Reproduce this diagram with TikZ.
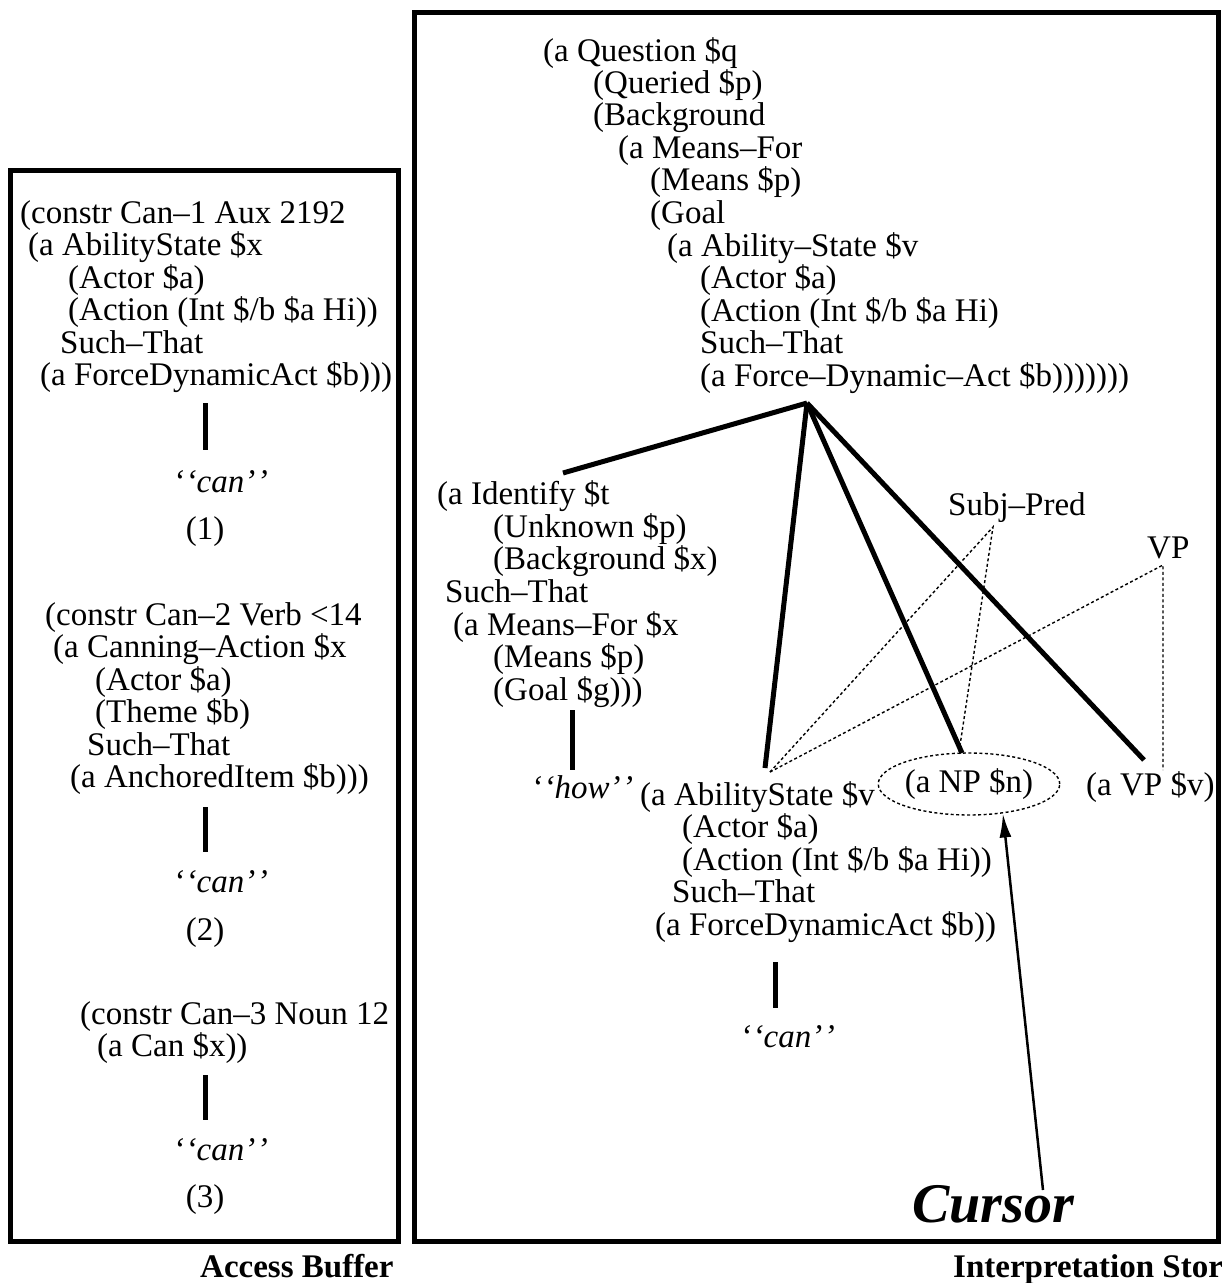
\documentclass[tikz,border=0pt]{standalone}
\usepackage{fontspec}
\setmainfont{Liberation Serif}
\usetikzlibrary{shapes.geometric,arrows.meta}
\newcommand\TxtLine[4]{\node[txt] (#1) at (#2,#3) {#4};}
\newcommand\QQ[1]{\textquoteleft\kern1.5pt\textquoteleft #1\textquoteright\kern1.5pt\textquoteright}
\begin{document}
\begin{tikzpicture}[x=1pt,y=-1pt,
  txt/.style={anchor=base west,inner sep=0pt,font=\fontsize{33}{33}\selectfont},
  ctxt/.style={anchor=base,inner sep=0pt,font=\fontsize{33}{33}\selectfont},
  qword/.style={anchor=base west,inner sep=0pt,font=\fontsize{33}{33}\selectfont\itshape},
  lbl/.style={anchor=base west,inner sep=0pt,font=\fontsize{33}{33}\selectfont\bfseries},
  frame/.style={line width=5pt},
  tree/.style={line width=5pt},
  dots/.style={line width=1.4pt,dash pattern=on 3pt off 2.5pt}]
\fill[white] (0,0) rectangle (1222,1283);
\useasboundingbox (0,0) rectangle (1222,1283);

% ---------------- Access buffer ----------------
\draw[frame] (10,170) rectangle (398,1241);

\TxtLine{a1}{20}{223}{(constr Can–1 Aux 2192}
\TxtLine{a2}{28}{255}{(a AbilityState \$x}
\TxtLine{a3}{68}{288}{(Actor \$a)}
\TxtLine{a4}{68}{320}{(Action (Int \$/b \$a Hi))}
\TxtLine{a5}{60}{353}{Such–That}
\TxtLine{a6}{40}{385}{(a ForceDynamicAct \$b)))}
\coordinate (a1t) at (205,403);
\coordinate (a1b) at (205,450);
\draw[tree] (a1t) -- (a1b);
\node[qword] (can1) at (173,492) {\QQ{can}};
\node[ctxt] (n1) at (205,539) {(1)};

\TxtLine{b1}{45}{625}{(constr Can–2 Verb <14}
\TxtLine{b2}{53}{657}{(a Canning–Action \$x}
\TxtLine{b3}{95}{690}{(Actor \$a)}
\TxtLine{b4}{95}{722}{(Theme \$b)}
\TxtLine{b5}{87}{755}{Such–That}
\TxtLine{b6}{70}{787}{(a AnchoredItem \$b)))}
\coordinate (b1t) at (205,807);
\coordinate (b1b) at (205,852);
\draw[tree] (b1t) -- (b1b);
\node[qword] (can2) at (173,892) {\QQ{can}};
\node[ctxt] (n2) at (205,940) {(2)};

\TxtLine{c1}{80}{1024}{(constr Can–3 Noun 12}
\TxtLine{c2}{97}{1056}{(a Can \$x))}
\coordinate (c1t) at (205,1075);
\coordinate (c1b) at (205,1120);
\draw[tree] (c1t) -- (c1b);
\node[qword] (can3) at (173,1160) {\QQ{can}};
\node[ctxt] (n3) at (205,1207) {(3)};

\node[lbl] (abuf) at (200,1277) {Access Buffer};

% ---------------- Interpretation store ----------------
\draw[frame] (414,12) rectangle (1218,1241);

\TxtLine{q1}{543}{61}{(a Question \$q}
\TxtLine{q2}{593}{93}{(Queried \$p)}
\TxtLine{q3}{593}{125}{(Background}
\TxtLine{q4}{618}{158}{(a Means–For}
\TxtLine{q5}{650}{190}{(Means \$p)}
\TxtLine{q6}{650}{223}{(Goal}
\TxtLine{q7}{667}{256}{(a Ability–State \$v}
\TxtLine{q8}{700}{288}{(Actor \$a)}
\TxtLine{q9}{700}{321}{(Action (Int \$/b \$a Hi)}
\TxtLine{q10}{700}{353}{Such–That}
\TxtLine{q11}{700}{386}{(a Force–Dynamic–Act \$b)))))))}

\TxtLine{i1}{437}{504}{(a Identify \$t}
\TxtLine{i2}{493}{537}{(Unknown \$p)}
\TxtLine{i3}{493}{569}{(Background \$x)}
\TxtLine{i4}{445}{602}{Such–That}
\TxtLine{i5}{453}{635}{(a Means–For \$x}
\TxtLine{i6}{493}{667}{(Means \$p)}
\TxtLine{i7}{493}{700}{(Goal \$g)))}
\coordinate (it) at (572,710);
\coordinate (ib) at (572,770);
\draw[tree] (it) -- (ib);
\node[qword] (how) at (531,798) {\QQ{how}};

\TxtLine{s1}{640}{805}{(a AbilityState \$v}
\TxtLine{s2}{682}{837}{(Actor \$a)}
\TxtLine{s3}{682}{870}{(Action (Int \$/b \$a Hi))}
\TxtLine{s4}{672}{902}{Such–That}
\TxtLine{s5}{655}{935}{(a ForceDynamicAct \$b))}
\coordinate (st) at (775,962);
\coordinate (sb) at (775,1008);
\draw[tree] (st) -- (sb);
\node[qword] (can4) at (740,1047) {\QQ{can}};

\node[draw,dots,ellipse,inner sep=0pt,minimum width=142pt,minimum height=62pt,
      font=\fontsize{33}{33}\selectfont] (np) at (969,784) {(a NP \$n)};
\TxtLine{vp}{1086}{795}{(a VP \$v)}

\TxtLine{subj}{948}{515}{Subj–Pred}
\TxtLine{vplab}{1147}{558}{VP}

% tree connectors
\coordinate (root) at (807,403);
\coordinate (idtop) at (563,473);
\coordinate (abtop) at (765,768);
\coordinate (nptop) at (962,753);
\coordinate (vptop) at (1144,760);
\draw[tree] (root) -- (idtop);
\draw[tree] (root) -- (abtop);
\draw[tree] (root) -- (nptop);
\draw[tree] (root) -- (vptop);

% dotted constituent links
\coordinate (sapex) at (993,527);
\coordinate (vapex) at (1163,565);
\coordinate (abdot) at (770,772);
\coordinate (npdot) at (959,752);
\coordinate (vpdot) at (1163,770);
\draw[dots] (abdot) -- (sapex) -- (npdot);
\draw[dots] (abdot) -- (vapex) -- (vpdot);

% cursor
\node[anchor=base west,inner sep=0pt,font=\fontsize{56}{56}\selectfont\bfseries\itshape] (cursor) at (912,1222) {Cursor};
\coordinate (curtop) at (1043,1190);
\draw[line width=2.5pt,-{Latex[length=24pt,width=12pt]}] (curtop) -- (np.-41);

\node[lbl] (istore) at (953,1277) {Interpretation Store};
\end{tikzpicture}
\end{document}
